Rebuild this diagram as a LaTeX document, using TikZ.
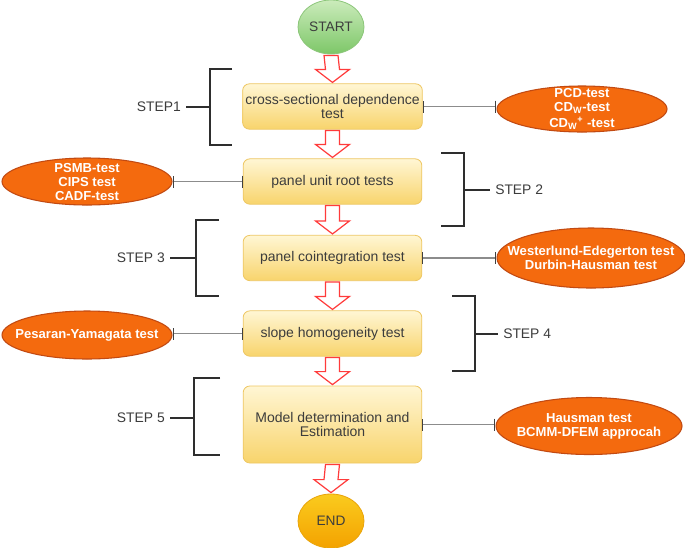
\documentclass[tikz,border=0pt]{standalone}
\usepackage{fontspec}
\setmainfont{Liberation Sans}
\usetikzlibrary{shapes.geometric,arrows.meta,calc}

\definecolor{boxtop}{HTML}{FFF6D4}
\definecolor{boxbot}{HTML}{F8D46C}
\definecolor{boxline}{HTML}{EEC763}
\definecolor{starttop}{HTML}{CBEBBB}
\definecolor{startbot}{HTML}{7DC768}
\definecolor{startline}{HTML}{8CC67A}
\definecolor{endtop}{HTML}{FACB1E}
\definecolor{endbot}{HTML}{F4A200}
\definecolor{endline}{HTML}{E9A40A}
\definecolor{ovalfill}{HTML}{F46A0E}
\definecolor{ovalline}{HTML}{C24A12}
\definecolor{arrowred}{HTML}{FF3B3B}
\definecolor{darktext}{HTML}{3C3C3C}

% block arrow between two nodes
\newcommand{\flowarrow}[2]{%
\draw[flowarr] ($(#1.south)+(-7,1)$) -- ($(#2.north)+(-7,-14)$) -- ($(#2.north)+(-17,-14)$) -- ($(#2.north)+(0,-1)$) -- ($(#2.north)+(17,-14)$) -- ($(#2.north)+(7,-14)$) -- ($(#1.south)+(7,1)$) -- cycle;}

\begin{document}
\begin{tikzpicture}[x=0.75pt,y=0.75pt,yscale=-1,xscale=1,
  stepbox/.style={rectangle,rounded corners=5pt,draw=boxline,line width=0.6pt,top color=boxtop,bottom color=boxbot,minimum width=134pt,minimum height=34pt,inner sep=2pt,align=center,text=darktext,font=\fontsize{10.5}{11}\selectfont},
  terminal/.style={ellipse,line width=0.6pt,minimum width=49.5pt,minimum height=40.5pt,inner sep=0pt,text=darktext,font=\fontsize{10.3}{11}\selectfont},
  testoval/.style={ellipse,draw=ovalline,fill=ovalfill,line width=0.8pt,inner sep=0pt},
  ovaltext/.style={text=white,align=center,inner sep=0pt,font=\bfseries\fontsize{9.8}{10.5}\selectfont},
  steplabel/.style={inner sep=3.75pt,text=darktext,font=\fontsize{10.4}{11}\selectfont},
  bracket/.style={draw=black!82,line width=1.5pt},
  link/.style={draw=black!45,line width=0.8pt,{Bar[width=9pt,color=black!75]}-{Bar[width=9pt,color=black!75]}},
  flowarr/.style={draw=arrowred,fill=white,line width=0.9pt,line join=miter}]
\useasboundingbox (0,0) rectangle (685,547);
\fill[white] (0,0) rectangle (685,547);

% Terminal Nodes
\node[terminal,draw=startline,top color=starttop,bottom color=startbot] (start) at (331,27) {START};
\node[terminal,draw=endline,top color=endtop,bottom color=endbot] (end) at (331,521) {END};

% Step Boxes
\node[stepbox] (cross) at (332.5,106.5) {cross-sectional dependence\\test};
\node[stepbox] (unitroot) at (332.5,181.5) {panel unit root tests};
\node[stepbox] (coint) at (332.5,258) {panel cointegration test};
\node[stepbox] (slope) at (332.5,333.5) {slope homogeneity test};
\node[stepbox,minimum height=57.75pt] (model) at (332.5,424.5) {Model determination and\\Estimation};

% Test Ovals
\node[testoval,minimum width=127.5pt,minimum height=34.5pt,label={[ovaltext]center:PCD-test\\CD\textsubscript{W}-test\\[1pt]CD\textsubscript{W}\textsuperscript{+} -test}] (cdtests) at (582,109) {};
\node[testoval,minimum width=127.5pt,minimum height=35.25pt,label={[ovaltext]center:PSMB-test\\CIPS test\\CADF-test}] (urtests) at (87,181.5) {};
\node[testoval,minimum width=141pt,minimum height=45pt,label={[ovaltext]center:Westerlund-Edegerton test\\Durbin-Hausman test}] (cointtests) at (591,258) {};
\node[testoval,minimum width=127.5pt,minimum height=36pt,label={[ovaltext]center:Pesaran-Yamagata test}] (slopetests) at (87,335) {};
\node[testoval,minimum width=139.5pt,minimum height=42.75pt,label={[ovaltext]center:Hausman test\\BCMM-DFEM approcah}] (modeltests) at (589,426) {};

% Flow Arrows
\flowarrow{start}{cross}
\flowarrow{cross}{unitroot}
\flowarrow{unitroot}{coint}
\flowarrow{coint}{slope}
\flowarrow{slope}{model}
\flowarrow{model}{end}

% Links to Tests
\draw[link] (cross.east) -- (cross.east -| cdtests.west);
\draw[link] (unitroot.west) -- (unitroot.west -| urtests.east);
\draw[link] (coint.east) -- (coint.east -| cointtests.west);
\draw[link] (slope.west) -- (slope.west -| slopetests.east);
\draw[link] (model.east) -- (model.east -| modeltests.west);

% Text Node
\node[steplabel,anchor=east] (step1) at (186,107) {STEP1};
% Text Node
\node[steplabel,anchor=west] (step2) at (490,190) {STEP 2};
% Text Node
\node[steplabel,anchor=east] (step3) at (170,258) {STEP 3};
% Text Node
\node[steplabel,anchor=west] (step4) at (498,334) {STEP 4};
% Text Node
\node[steplabel,anchor=east] (step5) at (170,418) {STEP 5};

% Brackets
\draw[bracket] (232,69) -- (210,69) -- (210,145) -- (232,145);
\draw[bracket] (210,107) -- (step1.east);
\draw[bracket] (441,153) -- (464,153) -- (464,226) -- (441,226);
\draw[bracket] (464,190) -- (step2.west);
\draw[bracket] (219,220) -- (196,220) -- (196,296) -- (219,296);
\draw[bracket] (196,258) -- (step3.east);
\draw[bracket] (452,296) -- (475,296) -- (475,371) -- (452,371);
\draw[bracket] (475,334) -- (step4.west);
\draw[bracket] (220,378) -- (194,378) -- (194,455) -- (220,455);
\draw[bracket] (194,418) -- (step5.east);

\end{tikzpicture}
\end{document}
